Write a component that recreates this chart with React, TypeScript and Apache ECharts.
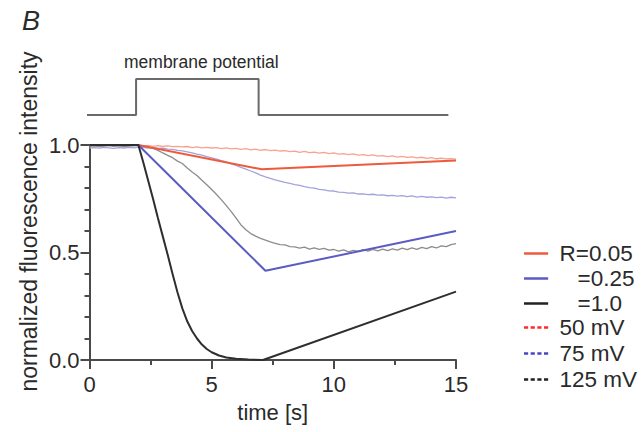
import React, { useEffect, useRef } from "react";
import * as echarts from "echarts";

// ---- data ----
const TRACE_T = [0, 0.2, 0.4, 0.6, 0.8, 1, 1.2, 1.4, 1.6, 1.8, 2, 2.2, 2.4, 2.6, 2.8, 3, 3.2, 3.4, 3.6, 3.8, 4, 4.2, 4.4, 4.6, 4.8, 5, 5.2, 5.4, 5.6, 5.8, 6, 6.2, 6.4, 6.6, 6.8, 7, 7.2, 7.4, 7.6, 7.8, 8, 8.2, 8.4, 8.6, 8.8, 9, 9.2, 9.4, 9.6, 9.8, 10, 10.2, 10.4, 10.6, 10.8, 11, 11.2, 11.4, 11.6, 11.8, 12, 12.2, 12.4, 12.6, 12.8, 13, 13.2, 13.4, 13.6, 13.8, 14, 14.2, 14.4, 14.6, 14.8, 15];

const TRACE_50MV = [
  0.996, 0.998, 0.995, 0.997, 0.999, 0.996, 0.998, 0.995, 0.997, 0.998,
  0.999, 0.996, 0.998, 0.994, 0.997, 0.993, 0.996, 0.992, 0.994, 0.991,
  0.993, 0.988, 0.991, 0.987, 0.989, 0.986, 0.988, 0.983, 0.987, 0.982,
  0.984, 0.980, 0.983, 0.977, 0.981, 0.975, 0.979, 0.974, 0.976, 0.972,
  0.974, 0.969, 0.972, 0.966, 0.970, 0.965, 0.967, 0.962, 0.966, 0.960,
  0.963, 0.958, 0.960, 0.955, 0.959, 0.953, 0.955, 0.951, 0.954, 0.948,
  0.951, 0.946, 0.949, 0.944, 0.947, 0.942, 0.945, 0.940, 0.943, 0.938,
  0.941, 0.936, 0.939, 0.935, 0.937, 0.934,
];

const TRACE_75MV = [
  0.986, 0.988, 0.985, 0.989, 0.987, 0.984, 0.988, 0.986, 0.989, 0.987,
  0.990, 0.989, 0.986, 0.988, 0.984, 0.985, 0.981, 0.980, 0.975, 0.973,
  0.968, 0.963, 0.957, 0.953, 0.946, 0.940, 0.934, 0.927, 0.921, 0.912,
  0.905, 0.896, 0.888, 0.879, 0.870, 0.860, 0.852, 0.845, 0.838, 0.832,
  0.826, 0.821, 0.816, 0.812, 0.806, 0.802, 0.799, 0.794, 0.791, 0.787,
  0.786, 0.781, 0.780, 0.776, 0.777, 0.772, 0.773, 0.769, 0.771, 0.767,
  0.768, 0.764, 0.766, 0.762, 0.765, 0.760, 0.763, 0.758, 0.761, 0.757,
  0.759, 0.755, 0.758, 0.753, 0.757, 0.754,
];

const TRACE_125MV = [
  0.994, 0.996, 0.993, 0.995, 0.997, 0.994, 0.996, 0.993, 0.995, 0.996,
  0.998, 0.995, 0.990, 0.984, 0.975, 0.963, 0.952, 0.941, 0.925, 0.914,
  0.893, 0.874, 0.858, 0.836, 0.815, 0.793, 0.770, 0.745, 0.718, 0.690,
  0.660, 0.628, 0.606, 0.588, 0.576, 0.566, 0.558, 0.549, 0.543, 0.537,
  0.535, 0.527, 0.526, 0.520, 0.525, 0.516, 0.522, 0.515, 0.519, 0.511,
  0.514, 0.506, 0.512, 0.503, 0.510, 0.505, 0.513, 0.506, 0.514, 0.508,
  0.516, 0.509, 0.517, 0.511, 0.520, 0.513, 0.521, 0.515, 0.524, 0.518,
  0.527, 0.521, 0.531, 0.527, 0.537, 0.541,
];

const MODEL_005_T = [0, 2, 7.05, 15];
const MODEL_005_V = [1, 1, 0.887, 0.928];
const MODEL_025_T = [0, 2, 7.2, 15];
const MODEL_025_V = [1, 1, 0.415, 0.6];
const MODEL_1_T = [0, 2, 2.2, 2.4, 2.6, 2.8, 3.0, 3.2, 3.4, 3.6, 3.8, 4.0, 4.2, 4.4, 4.6, 4.8, 5.0, 5.3, 5.6, 6.0, 6.5, 7.1, 15];
const MODEL_1_V = [1, 1, 0.92, 0.835, 0.75, 0.66, 0.575, 0.49, 0.4, 0.315, 0.24, 0.18, 0.135, 0.1, 0.072, 0.051, 0.036, 0.021, 0.012, 0.006, 0.002, 0, 0.318];

const MEMBRANE_T = [-0.1, 1.93, 1.93, 7.0, 7.0, 14.85];
const MEMBRANE_V = [0, 0, 1, 1, 0, 0];

const SERIES_NAMES = ["R=0.05", "=0.25", "=1.0", "50 mV", "75 mV", "125 mV"];
const Y_TICKS = ["0.0", "0.5", "1.0"];

const FONT = "'Liberation Sans', Arial, Helvetica, sans-serif";
const AXIS_COLOR = "#4a4a4a";
const TEXT_COLOR = "#2a2a2a";

const SOLID_ICON = "path://M0,0h29v3h-29z";
const DASH_ICON = "path://M0,0h5v3h-5zM8,0h5v3h-5zM16,0h5v3h-5zM24,0h5v3h-5z";

const zip = (t: number[], v: number[]) => t.map((x, i) => [x, v[i]]);

export default function App() {
  const ref = useRef<HTMLDivElement>(null);
  useEffect(() => {
    if (!ref.current) return;
    const chart = echarts.init(ref.current, null, { renderer: "svg" });
    const legendBase = {
      orient: "vertical",
      left: 524,
      padding: 0,
      itemWidth: 29,
      itemHeight: 2.5,
      selectedMode: false,
      textStyle: {
        fontSize: 22.5,
        lineHeight: 21,
        color: TEXT_COLOR,
        fontFamily: FONT,
        padding: [0, 0, 0, 4],
        rich: { pad: { width: 18, fontSize: 22.5, lineHeight: 21 } },
      },
      formatter: (name: string) => (name.startsWith("=") ? "{pad|}" + name : name),
    };
    const option: any = {
      animation: false,
      backgroundColor: "#ffffff",
      textStyle: { fontFamily: FONT },
      grid: [
        { left: 89.5, right: 187, top: 145, height: 215, containLabel: false },
        { left: 87, right: 191, top: 79, height: 36, containLabel: false },
      ],
      xAxis: [
        {
          gridIndex: 0,
          type: "value",
          min: 0,
          max: 15,
          interval: 5,
          name: "time [s]",
          nameLocation: "middle",
          nameGap: 41,
          nameTextStyle: { fontSize: 22, color: TEXT_COLOR, fontFamily: FONT },
          axisLine: { show: true, onZero: false, lineStyle: { color: AXIS_COLOR, width: 2 } },
          axisTick: { show: true, length: 9, lineStyle: { color: AXIS_COLOR, width: 2 } },
          minorTick: { show: true, splitNumber: 2, length: 5, lineStyle: { color: AXIS_COLOR, width: 2 } },
          splitLine: { show: false },
          axisLabel: { fontSize: 22, color: TEXT_COLOR, margin: 13, fontFamily: FONT },
        },
        {
          gridIndex: 1,
          type: "value",
          min: -0.1,
          max: 15,
          show: false,
        },
      ],
      yAxis: [
        {
          gridIndex: 0,
          type: "value",
          min: 0,
          max: 1,
          interval: 0.5,
          axisLine: { show: true, onZero: false, lineStyle: { color: AXIS_COLOR, width: 2 } },
          axisTick: { show: true, length: 9, lineStyle: { color: AXIS_COLOR, width: 2 } },
          minorTick: { show: true, splitNumber: 5, length: 5, lineStyle: { color: AXIS_COLOR, width: 2 } },
          splitLine: { show: false },
          axisLabel: {
            fontSize: 22,
            color: TEXT_COLOR,
            margin: 10,
            fontFamily: FONT,
            formatter: (v: number) => Y_TICKS[Math.round(v * 2)] ?? v.toFixed(1),
          },
        },
        { gridIndex: 1, type: "value", min: 0, max: 1, show: false },
      ],
      legend: [
        {
          ...legendBase,
          top: 242,
          itemGap: 2,
          data: [
            { name: SERIES_NAMES[0], icon: SOLID_ICON, itemStyle: { color: "#ee5a3c", borderWidth: 0 } },
            { name: SERIES_NAMES[1], icon: SOLID_ICON, itemStyle: { color: "#5b5bc4", borderWidth: 0 } },
            { name: SERIES_NAMES[2], icon: SOLID_ICON, itemStyle: { color: "#222222", borderWidth: 0 } },
          ],
        },
        {
          ...legendBase,
          top: 316,
          itemGap: 3,
          data: [
            { name: SERIES_NAMES[3], icon: DASH_ICON, itemStyle: { color: "#ff2a2a", borderWidth: 0 } },
            { name: SERIES_NAMES[4], icon: DASH_ICON, itemStyle: { color: "#4848c0", borderWidth: 0 } },
            { name: SERIES_NAMES[5], icon: DASH_ICON, itemStyle: { color: "#222222", borderWidth: 0 } },
          ],
        },
      ],
      graphic: [
        {
          type: "text",
          left: 22,
          top: 7,
          style: { text: "B", fontSize: 27, fontStyle: "italic", fontFamily: FONT, fill: TEXT_COLOR },
        },
        {
          type: "text",
          x: 124,
          y: 62,
          style: {
            text: "membrane potential",
            fontSize: 17.5,
            fontFamily: FONT,
            fill: TEXT_COLOR,
            verticalAlign: "middle",
          },
        },
        {
          type: "text",
          x: 29,
          y: 221.5,
          rotation: Math.PI / 2,
          style: {
            text: "normalized fluorescence intensity",
            fontSize: 23,
            fontFamily: FONT,
            fill: TEXT_COLOR,
            align: "center",
            verticalAlign: "middle",
          },
        },
      ],
      series: [
        {
          name: SERIES_NAMES[3],
          type: "line",
          data: zip(TRACE_T, TRACE_50MV),
          symbol: "none",
          lineStyle: { color: "#f6a392", width: 1.3 },
          itemStyle: { color: "#f6a392" },
        },
        {
          name: SERIES_NAMES[4],
          type: "line",
          data: zip(TRACE_T, TRACE_75MV),
          symbol: "none",
          lineStyle: { color: "#a3a3dc", width: 1.3 },
          itemStyle: { color: "#a3a3dc" },
        },
        {
          name: SERIES_NAMES[5],
          type: "line",
          data: zip(TRACE_T, TRACE_125MV),
          symbol: "none",
          lineStyle: { color: "#8c8c8c", width: 1.3 },
          itemStyle: { color: "#8c8c8c" },
        },
        {
          name: SERIES_NAMES[0],
          type: "line",
          data: zip(MODEL_005_T, MODEL_005_V),
          symbol: "none",
          lineStyle: { color: "#ee5a3c", width: 2 },
          itemStyle: { color: "#ee5a3c" },
        },
        {
          name: SERIES_NAMES[1],
          type: "line",
          data: zip(MODEL_025_T, MODEL_025_V),
          symbol: "none",
          lineStyle: { color: "#5b5bc4", width: 2 },
          itemStyle: { color: "#5b5bc4" },
        },
        {
          name: SERIES_NAMES[2],
          type: "line",
          data: zip(MODEL_1_T, MODEL_1_V),
          symbol: "none",
          lineStyle: { color: "#2e2e2e", width: 2 },
          itemStyle: { color: "#2e2e2e" },
        },
        {
          name: "membrane",
          type: "line",
          xAxisIndex: 1,
          yAxisIndex: 1,
          data: zip(MEMBRANE_T, MEMBRANE_V),
          symbol: "none",
          clip: false,
          lineStyle: { color: "#6a6a6a", width: 2 },
        },
      ],
    };
    chart.setOption(option);
    return () => chart.dispose();
  }, []);
  return (
    <div
      ref={ref}
      style={{ position: "fixed", left: 0, top: 0, width: 643, height: 432, background: "#fff" }}
    />
  );
}
